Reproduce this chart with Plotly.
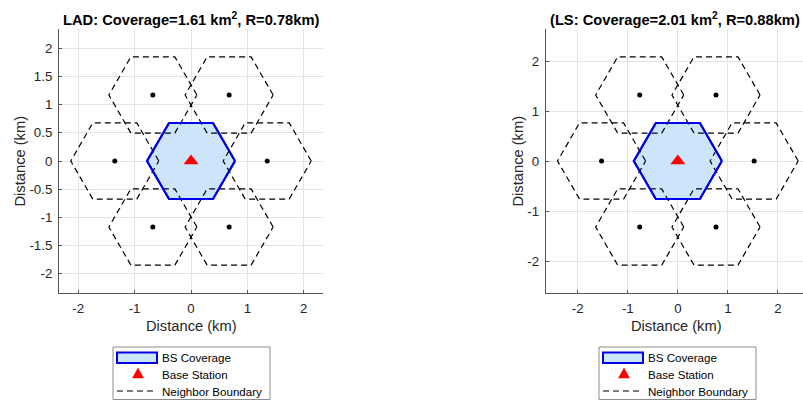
import numpy as np
import plotly.graph_objects as go

# ---------------- data ----------------
titles = ["LAD: Coverage=1.61 km<sup>2</sup>, R=0.78km)",
          "(LS: Coverage=2.01 km<sup>2</sup>, R=0.88km)"]
radii = [0.78, 0.88]

lad_nx = [1.351, 0.676, -0.676, -1.351, -0.676, 0.676]
lad_ny = [0.0, 1.17, 1.17, 0.0, -1.17, -1.17]
ls_nx = [1.524, 0.762, -0.762, -1.524, -0.762, 0.762]
ls_ny = [0.0, 1.32, 1.32, 0.0, -1.32, -1.32]

bs_x = [0.0]
bs_y = [0.0]

lad_xticks = [-2, -1, 0, 1, 2]
lad_xlabels = ["-2", "-1", "0", "1", "2"]
lad_yticks = [-2, -1.5, -1, -0.5, 0, 0.5, 1, 1.5, 2]
lad_ylabels = ["-2", "-1.5", "-1", "-0.5", "0", "0.5", "1", "1.5", "2"]
ls_xticks = [-2, -1, 0, 1, 2]
ls_xlabels = ["-2", "-1", "0", "1", "2"]
ls_yticks = [-2, -1, 0, 1, 2]
ls_ylabels = ["-2", "-1", "0", "1", "2"]

legend_names = ["BS Coverage", "Base Station", "Neighbor Boundary"]

# ---------------- helpers ----------------
W, H = 803, 401
FONT = "Liberation Sans, Arial, Helvetica, sans-serif"
FILL = "#cce5fb"
BLUE = "#0000e6"
DASH = "6px,4px"


def hexagon(cx, cy, r):
    ang = np.deg2rad(np.arange(0, 361, 60))
    return list(cx + r * np.cos(ang)), list(cy + r * np.sin(ang))


def px_x(v):
    return v / W


def px_y(v):
    return (H - v) / H


fig = go.Figure()

panels = [
    dict(R=radii[0], nx=lad_nx, ny=lad_ny, xa="x", ya="y"),
    dict(R=radii[1], nx=ls_nx, ny=ls_ny, xa="x2", ya="y2"),
]

for p in panels:
    R = p["R"]
    hx, hy = hexagon(0.0, 0.0, R)
    # coverage fill
    fig.add_trace(go.Scatter(
        x=hx, y=hy, mode="lines", fill="toself", fillcolor=FILL,
        line=dict(color=BLUE, width=2), name=legend_names[0],
        xaxis=p["xa"], yaxis=p["ya"], hoverinfo="skip"))
    # neighbour boundaries
    for cx, cy in zip(p["nx"], p["ny"]):
        nx_, ny_ = hexagon(cx, cy, R)
        fig.add_trace(go.Scatter(
            x=nx_, y=ny_, mode="lines",
            line=dict(color="black", width=1.2, dash=DASH),
            name=legend_names[2],
            xaxis=p["xa"], yaxis=p["ya"], hoverinfo="skip"))
    # coverage outline on top of the dashed lines
    fig.add_trace(go.Scatter(
        x=hx, y=hy, mode="lines", line=dict(color=BLUE, width=2),
        name=legend_names[0], xaxis=p["xa"], yaxis=p["ya"], hoverinfo="skip"))
    # neighbour centres
    fig.add_trace(go.Scatter(
        x=p["nx"], y=p["ny"], mode="markers",
        marker=dict(color="black", size=5), name="Neighbor",
        xaxis=p["xa"], yaxis=p["ya"], hoverinfo="skip"))
    # base station
    fig.add_trace(go.Scatter(
        x=bs_x, y=bs_y, mode="markers",
        marker=dict(symbol="triangle-up", color="#ff0000", size=13),
        name=legend_names[1],
        xaxis=p["xa"], yaxis=p["ya"], hoverinfo="skip"))

# ---------------- layout ----------------
y_dom = [px_y(293), px_y(29)]

axis_common = dict(
    showgrid=True, gridcolor="#e3e3e3", gridwidth=1,
    zeroline=False, showline=True, linecolor="#555555", linewidth=1,
    ticks="inside", ticklen=3, tickcolor="#555555",
    tickfont=dict(family=FONT, size=13.3, color="#262626"),
    mirror=False, fixedrange=True, automargin=False,
    ticklabelstandoff=3,
)

r0 = 3 * radii[0]
r1 = 3 * radii[1]
ppu1 = 264.3 / (2 * r1)

fig.update_layout(
    width=W, height=H,
    margin=dict(l=0, r=0, t=0, b=0, autoexpand=False),
    paper_bgcolor="white", plot_bgcolor="white",
    showlegend=False,
    xaxis=dict(axis_common, domain=[px_x(59), px_x(323)], range=[-r0, r0],
               tickvals=lad_xticks, ticktext=lad_xlabels, anchor="y"),
    yaxis=dict(axis_common, domain=y_dom, range=[-r0, r0],
               tickvals=lad_yticks, ticktext=lad_ylabels, anchor="x"),
    xaxis2=dict(axis_common, domain=[px_x(545.7), 1.0],
                range=[-r1, -r1 + (W - 545.7) / ppu1],
                tickvals=ls_xticks, ticktext=ls_xlabels, anchor="y2"),
    yaxis2=dict(axis_common, domain=y_dom, range=[-r1, r1],
                tickvals=ls_yticks, ticktext=ls_ylabels, anchor="x2"),
)

annots = [
    dict(text="<b>" + titles[0] + "</b>", x=px_x(191), y=px_y(19), color="black"),
    dict(text="<b>" + titles[1] + "</b>", x=px_x(674.5), y=px_y(19), color="black"),
    dict(text="Distance (km)", x=px_x(191), y=px_y(326), color="#262626"),
    dict(text="Distance (km)", x=px_x(676.7), y=px_y(326), color="#262626"),
    dict(text="Distance (km)", x=px_x(19.5), y=px_y(161), color="#262626", textangle=-90),
    dict(text="Distance (km)", x=px_x(517.5), y=px_y(161), color="#262626", textangle=-90),
]
for a in annots:
    color = a.pop("color")
    fig.add_annotation(
        xref="paper", yref="paper", showarrow=False,
        xanchor="center", yanchor="middle",
        font=dict(family=FONT, size=14.7, color=color), **a)

# ---------------- legends (one per panel) ----------------
for ox in (113, 599):
    # frame
    fig.add_shape(type="rect", xref="paper", yref="paper",
                  x0=px_x(ox), x1=px_x(ox + 157), y0=px_y(399.5), y1=px_y(347),
                  line=dict(color="#8c8c8c", width=1), fillcolor="white")
    # coverage patch
    fig.add_shape(type="rect", xref="paper", yref="paper",
                  x0=px_x(ox + 4), x1=px_x(ox + 44), y0=px_y(363), y1=px_y(352.5),
                  line=dict(color=BLUE, width=2), fillcolor=FILL)
    # base station triangle
    tx, ty = ox + 25, 373.5
    fig.add_shape(type="path", xref="paper", yref="paper",
                  path="M {:.5f},{:.5f} L {:.5f},{:.5f} L {:.5f},{:.5f} Z".format(
                      px_x(tx - 5.5), px_y(ty + 4.5), px_x(tx + 5.5), px_y(ty + 4.5),
                      px_x(tx), px_y(ty - 5.5)),
                  line=dict(color="#ff0000", width=0.5), fillcolor="#ff0000")
    # neighbour dashed line
    fig.add_shape(type="line", xref="paper", yref="paper",
                  x0=px_x(ox + 4), x1=px_x(ox + 42), y0=px_y(391), y1=px_y(391),
                  line=dict(color="black", width=1.2, dash=DASH))
    for name, yy in zip(legend_names, (357.5, 374, 391)):
        fig.add_annotation(xref="paper", yref="paper", showarrow=False,
                           x=px_x(ox + 47), y=px_y(yy), xanchor="left", yanchor="middle",
                           text=name, font=dict(family=FONT, size=11.6, color="black"))

fig.write_html("out.html",
               config={"displayModeBar": False, "staticPlot": True},
               post_script="document.body.style.margin='0px';"
                           "document.body.style.padding='0px';"
                           "document.body.style.overflow='hidden';")
